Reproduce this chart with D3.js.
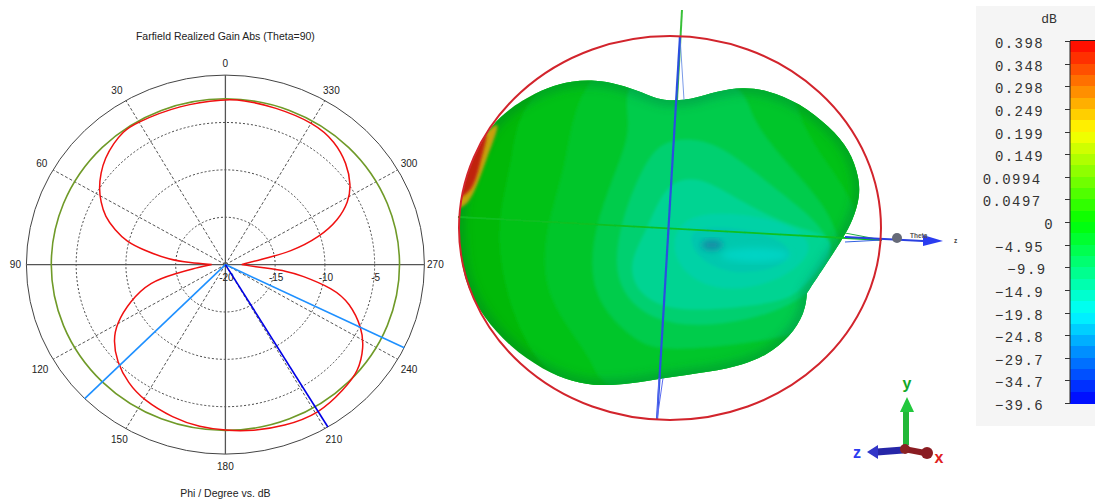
<!DOCTYPE html>
<html><head><meta charset="utf-8">
<script src="https://cdn.jsdelivr.net/npm/d3@7/dist/d3.min.js"></script>
<style>html,body{margin:0;padding:0;background:#fff;overflow:hidden}svg{display:block}text{font-family:"Liberation Sans",sans-serif}</style>
</head><body><svg id="c" width="1095" height="502"></svg>
<script>
// ---------- polar chart data ----------
const chartTitle = "Farfield Realized Gain Abs (Theta=90)";
const axisTitle = "Phi / Degree vs. dB";
const ringTicks = [-20,-15,-10,-5,0];
const ringLabels = ["-20","-15","-10","-5"];
const angleTicks = [0,30,60,90,120,150,180,210,240,270,300,330];
const redPhi = [0,15,31.8,36.2,41.3,47.2,52.4,57.6,62.1,67.3,71.8,76.3,79.4,85.1,86.8,90,90,90,97.8,100.6,103.4,112,119.6,125.3,133.2,142,150,162,171.5,180,189,199,211,222,230,238,244,252,257,261.7,263.5,265,270,270,270,278.3,281.5,287.2,292.5,298.2,303.6,311.2,319.7,328.9,343.4,354.6];
const redDb = [-2.54,-2.52,-2.5,-2.62,-2.96,-3.5,-4.18,-4.96,-5.82,-6.88,-8.32,-9.78,-11.6,-14.42,-16.44,-18.62,-18.62,-18.62,-16.58,-15.02,-12.2,-9.64,-7.44,-6.2,-5.02,-4.12,-3.5,-2.96,-2.64,-2.48,-2.22,-1.94,-1.64,-2.24,-2.5,-3.6,-4.74,-6.84,-8.88,-12.42,-13.64,-16.2,-18.36,-18.36,-18.36,-16.66,-13.2,-10.06,-7.72,-5.96,-4.84,-3.78,-2.98,-2.58,-2.62,-2.54];
const greenDb = -2.5;
const markerPhi = [135,244,211];
const markerColor = ["#1e90ff","#1e90ff","#0000e6"];
// ---------- colour bar data ----------
const barLabels = ["0.398","0.348","0.298","0.249","0.199","0.149","0.0994","0.0497","0","\u22124.95","\u22129.9","\u221214.9","\u221219.8","\u221224.8","\u221229.7","\u221234.7","\u221239.6"];
const barStops = ["#ff0000","#ffff00","#00ff00","#00ffff","#0000ff"];
// ---------- 3D pattern view data (scene units) ----------
const blobX = [10,23,47,73,97,130,160,180,189,190,183,173,157,137,137,137,135,120,97,73,40,-7,-40,-70,-97,-127,-160,-187,-203,-210,-212,-207,-198,-183,-172,-148,-122,-98,-75,-52,-28,-8];
const blobY = [-128,-129,-137,-141,-138,-125,-101,-78,-51,-31,-8,10,35,65,65,65,85,109,127,137,144,150,156,158,154,142,119,89,59,29,-11,-38,-68,-95,-110,-128,-141,-147,-148,-144,-136,-127];
const bandColors = ["#00c214","#00c62c","#00cc4c","#00d070","#00d492","#00d2a6","#00c8ae"];
const bandX = [
 [-142,-158,-172,-170,-150,-100,200,225,200],
 [-90,-102,-125,-128,-72,-70,160,200,183,130,117,40],
 [-52,-38,-48,-78,-80,-37,-7,110,170,177,123,77,77],
 [-10,-28,-50,-58,-20,50,140,176,110,50,15],
 [20,-6,-23,-42,-33,-3,47,113,133,175,130,80,47],
 [20,0,10,50,110,150,120,70],
 [15,30,70,115,125,90,40]];
const bandY = [
 [-180,-65,-11,40,110,180,180,0,-180],
 [-170,-65,-1,70,135,172,172,32,-35,-95,-168,-185],
 [-160,-105,-71,2,69,112,125,112,92,2,-58,-111,-150],
 [-85,-60,-5,55,95,100,75,15,-35,-85,-90],
 [-52,-42,2,35,65,82,82,74,62,10,2,-21,-42],
 [-15,10,45,65,55,20,-5,-15],
 [5,35,48,38,20,3,-3]];
const hotX = [-214,-192,-173,-183,-203];
const hotY = [-20,-85,-103,-70,-25];
const coreX = [-214,-198,-184,-188,-200];
const coreY = [-30,-80,-94,-72,-38];

const svg = d3.select("#c");
const cx = 225.4, cy = 264.6;
const rx = d3.scaleLinear().domain([-20,0]).range([0,199]);
const ry = d3.scaleLinear().domain([-20,0]).range([0,189.5]);
const rad = d => d*Math.PI/180;
const px = (phi,db) => cx - rx(db)*Math.sin(rad(phi));
const py = (phi,db) => cy - ry(db)*Math.cos(rad(phi));

const polar = svg.append("g");
ringTicks.forEach(t=>{
  if(t===-20) return;
  polar.append("ellipse").attr("cx",cx).attr("cy",cy).attr("rx",rx(t)).attr("ry",ry(t))
    .attr("fill","none").attr("stroke","#444").attr("stroke-width",1)
    .attr("stroke-dasharray",t===0?null:"2,2");
});
const labelMargin = a => (a%90===30 && (a%180===30||a%180===150)) ? 18 : (a%180===90 ? 11 : (a===120?15:13));
const labelExtra = a => (a===120||a===240) ? 4 : 0;
angleTicks.forEach(a=>{
  const solid = a%90===0;
  polar.append("line").attr("x1",cx).attr("y1",cy).attr("x2",px(a,0)).attr("y2",py(a,0))
    .attr("stroke","#555").attr("stroke-width",solid?1.3:1).attr("stroke-dasharray",solid?null:"3,2");
  polar.append("text").attr("x",cx-(rx(0)+labelMargin(a))*Math.sin(rad(a))).attr("y",cy-(ry(0)+12)*Math.cos(rad(a))+3.5+labelExtra(a))
    .attr("text-anchor","middle").attr("font-size",10).attr("fill","#222").text(a);
});
ringLabels.forEach((l,i)=>{
  polar.append("text").attr("x",cx+rx(ringTicks[i])+1).attr("y",281).attr("text-anchor","middle")
   .attr("font-size",10).attr("fill","#222").text(l);
});
polar.append("ellipse").attr("cx",cx).attr("cy",cy).attr("rx",rx(greenDb)).attr("ry",ry(greenDb))
  .attr("fill","none").attr("stroke","#6f9a28").attr("stroke-width",1.6);
const polarLine = d3.line().x(d=>px(d[0],d[1])).y(d=>py(d[0],d[1])).curve(d3.curveBasisClosed);
polar.append("path").attr("d",polarLine(redPhi.map((p,i)=>[p,redDb[i]])))
  .attr("fill","none").attr("stroke","#f01010").attr("stroke-width",1.5);
markerPhi.forEach((p,i)=>{
  polar.append("line").attr("x1",cx).attr("y1",cy).attr("x2",px(p,0)).attr("y2",py(p,0))
   .attr("stroke",markerColor[i]).attr("stroke-width",1.6);
});
polar.append("text").attr("x",cx).attr("y",40).attr("text-anchor","middle").attr("font-size",10.5).attr("fill","#222").text(chartTitle);
polar.append("text").attr("x",cx).attr("y",497).attr("text-anchor","middle").attr("font-size",10.5).attr("fill","#222").text(axisTitle);

// ---------- 3D view ----------
const sx = d3.scaleLinear().domain([-211,211]).range([459,881]);
const sy = d3.scaleLinear().domain([-192,192]).range([36,420]);
const defs = svg.append("defs");
defs.append("filter").attr("id","b1").append("feGaussianBlur").attr("stdDeviation",1.6);
defs.append("filter").attr("id","b2").append("feGaussianBlur").attr("stdDeviation",5);
defs.append("filter").attr("id","b3").append("feGaussianBlur").attr("stdDeviation",0.6);
defs.append("filter").attr("id","b4").append("feGaussianBlur").attr("stdDeviation",3.5);
const closed = d3.line().x(d=>sx(d[0])).y(d=>sy(d[1])).curve(d3.curveCatmullRomClosed.alpha(0.5));
const smooth = d3.line().x(d=>sx(d[0])).y(d=>sy(d[1])).curve(d3.curveBasisClosed);
const zip = (a,b)=>a.map((v,i)=>[v,b[i]]);
const blobPath = smooth(zip(blobX,blobY));
defs.append("clipPath").attr("id","blobClip").append("path").attr("d",blobPath);

const scene = svg.append("g");
scene.append("path").attr("d",blobPath).attr("fill","#00b908");
const inner = scene.append("g").attr("clip-path","url(#blobClip)");
const soft = inner.append("g").attr("filter","url(#b1)");
bandX.forEach((xs,i)=>{
  soft.append("path").attr("d",smooth(zip(xs,bandY[i]))).attr("fill",bandColors[i]);
});
const spots = inner.append("g").attr("filter","url(#b4)");
spots.append("ellipse").attr("cx",sx(85)).attr("cy",sy(27)).attr("rx",34).attr("ry",7).attr("fill","#00d4c4");
spots.append("ellipse").attr("cx",sx(42)).attr("cy",sy(17)).attr("rx",11).attr("ry",5).attr("fill","#1488a4");
inner.append("path").attr("d",blobPath).attr("fill","none").attr("stroke","#005a40").attr("stroke-opacity",.28).attr("stroke-width",12).attr("filter","url(#b2)");
inner.append("path").attr("d",closed(zip(hotX,hotY))).attr("fill","#c8a010").attr("filter","url(#b1)");
inner.append("path").attr("d",closed(zip(coreX,coreY))).attr("fill","#c02010").attr("filter","url(#b1)");

const seg = (g,x1,y1,x2,y2,c,w)=>g.append("line").attr("x1",sx(x1)).attr("y1",sy(y1)).attr("x2",sx(x2)).attr("y2",sy(y2)).attr("stroke",c).attr("stroke-width",w);
const ax = scene.append("g").attr("filter","url(#b3)");
seg(ax,12,-218,7,-128,"#38c038",2);
seg(ax,14,-128,10,-192,"#7a9ae8",1);
seg(ax,-212,-11,212,12,"#10c020",1.8);
seg(ax,10,-192,-13,192,"#2a50e0",2.2);
seg(ax,-7,150,-13,192,"#5a6af0",1);
seg(ax,-11,150,-13,192,"#5a6af0",1);
scene.append("ellipse").attr("cx",sx(0)).attr("cy",sy(0)).attr("rx",211).attr("ry",192)
  .attr("fill","none").attr("stroke","#d2242c").attr("stroke-width",2);
seg(ax,175,5,212,12,"#20b040",1);
seg(ax,175,14,212,12,"#3060e0",1);
seg(ax,175,9,253,13,"#2a40e0",2);
const poly = (pts,c,g=scene)=>g.append("path").attr("d",d3.line().x(d=>sx(d[0])).y(d=>sy(d[1]))(pts)+"Z").attr("fill",c);
poly([[253,7],[273,13],[253,18]],"#2a3cf0");
scene.append("circle").attr("cx",sx(227)).attr("cy",sy(10)).attr("r",5).attr("fill","#666a78");
scene.append("text").attr("x",910).attr("y",238).attr("font-size",6.5).attr("font-weight","bold").attr("fill","#555").text("Theta");
scene.append("text").attr("x",954).attr("y",243).attr("font-size",6.5).attr("font-weight","bold").attr("fill","#444").text("z");

// triad
const tri = svg.append("g").attr("filter","url(#b3)");
seg(tri,236,217,236,180,"#22b838",6);
poly([[230,184],[237,169],[244,184]],"#22c83c",tri);
seg(tri,233,222,207,224,"#2828a8",7);
poly([[208,217],[197,224],[208,231]],"#3034c8",tri);
seg(tri,234,221,255,225,"#8a1c20",6);
tri.append("circle").attr("cx",sx(257)).attr("cy",sy(225)).attr("r",6).attr("fill","#8a1c20");
tri.append("circle").attr("cx",sx(235)).attr("cy",sy(221)).attr("r",5).attr("fill","#8a2024");
svg.append("text").attr("x",907).attr("y",389).attr("text-anchor","middle").attr("font-size",16).attr("font-weight","bold").attr("fill","#12a828").text("y");
svg.append("text").attr("x",857).attr("y",458).attr("text-anchor","middle").attr("font-size",16).attr("font-weight","bold").attr("fill","#2a3cf0").text("z");
svg.append("text").attr("x",939).attr("y",463).attr("text-anchor","middle").attr("font-size",16).attr("font-weight","bold").attr("fill","#e02020").text("x");

// ---------- colour bar ----------
svg.append("rect").attr("x",976).attr("y",6).attr("width",119).attr("height",420).attr("fill","#f5f5f5");
const barY = d3.scaleLinear().domain([0,barLabels.length-1]).range([41,403]);
const cellCount = 32;
const cellY = d3.scaleLinear().domain([0,cellCount]).range([41,403]);
const cellColor = d3.scaleLinear().domain(d3.range(barStops.length).map(i=>i*cellCount/4)).range(barStops).interpolate(d3.interpolateRgb);
d3.range(cellCount).forEach(i=>{
  svg.append("rect").attr("x",1070).attr("y",cellY(i)).attr("width",25).attr("height",cellY(i+1)-cellY(i)+.5)
    .attr("fill",cellColor(i+.5)).attr("shape-rendering","crispEdges");
});
svg.append("line").attr("x1",1070).attr("x2",1070).attr("y1",41).attr("y2",403).attr("stroke","#222");
svg.append("line").attr("x1",1070).attr("x2",1095).attr("y1",40.5).attr("y2",40.5).attr("stroke","#222");
barLabels.forEach((l,i)=>{
  svg.append("line").attr("x1",1065).attr("x2",1070).attr("y1",Math.round(barY(i))+.5).attr("y2",Math.round(barY(i))+.5).attr("stroke","#333");
  svg.append("text").attr("x",1054-(l.length-1)*2.5).attr("y",barY(i)+7).attr("text-anchor","end")
    .style("font-family","'Liberation Mono',monospace").attr("font-size",14).style("letter-spacing","1.4px").attr("fill","#333").text(l);
});
svg.append("text").attr("x",1049).attr("y",23).attr("text-anchor","middle").style("font-family","'Liberation Mono',monospace")
  .attr("font-size",13).attr("fill","#333").text("dB");
</script></body></html>
